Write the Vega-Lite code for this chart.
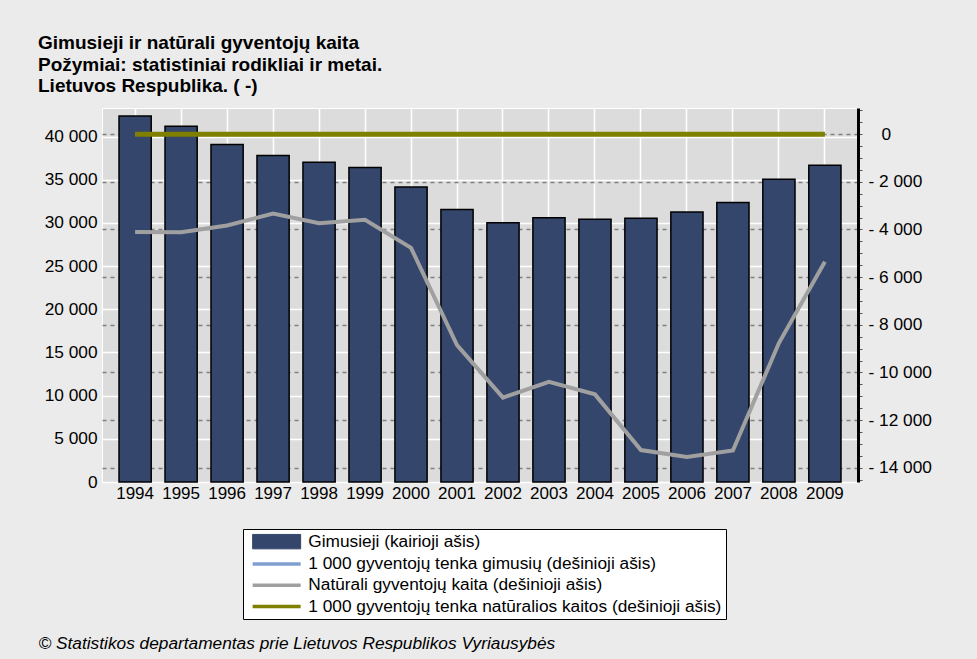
{
  "$schema": "https://vega.github.io/schema/vega-lite/v6.json",
  "autosize": {"type": "none"},
  "padding": {"left": 102, "top": 108, "right": 119, "bottom": 177},
  "width": 756,
  "height": 374,
  "background": "#ebebeb",
  "config": {
    "font": "Liberation Sans",
    "view": {"fill": "#dcdcdc", "stroke": "#ffffff", "strokeWidth": 1}
  },
  "title": {
    "text": ["Gimusieji ir natūrali gyventojų kaita", "Požymiai: statistiniai rodikliai ir metai.", "Lietuvos Respublika. ( -)"],
    "anchor": "start",
    "frame": "group",
    "dx": -64,
    "offset": 12,
    "font": "Liberation Sans",
    "fontSize": 19,
    "fontWeight": "bold",
    "lineHeight": 21.5,
    "color": "#000000"
  },
  "data": {
    "values": [
      {"year": "1994", "births": 42376, "natural": -4110, "birthRate": 11.4, "naturalRate": -1.1},
      {"year": "1995", "births": 41195, "natural": -4111, "birthRate": 11.2, "naturalRate": -1.1},
      {"year": "1996", "births": 39066, "natural": -3830, "birthRate": 10.6, "naturalRate": -1.0},
      {"year": "1997", "births": 37812, "natural": -3331, "birthRate": 10.3, "naturalRate": -0.9},
      {"year": "1998", "births": 37019, "natural": -3738, "birthRate": 10.0, "naturalRate": -1.0},
      {"year": "1999", "births": 36415, "natural": -3588, "birthRate": 9.9, "naturalRate": -1.0},
      {"year": "2000", "births": 34149, "natural": -4770, "birthRate": 9.8, "naturalRate": -1.4},
      {"year": "2001", "births": 31546, "natural": -8853, "birthRate": 9.1, "naturalRate": -2.5},
      {"year": "2002", "births": 30014, "natural": -11058, "birthRate": 8.6, "naturalRate": -3.2},
      {"year": "2003", "births": 30598, "natural": -10392, "birthRate": 8.9, "naturalRate": -3.0},
      {"year": "2004", "births": 30419, "natural": -10921, "birthRate": 8.9, "naturalRate": -3.2},
      {"year": "2005", "births": 30541, "natural": -13258, "birthRate": 8.9, "naturalRate": -3.9},
      {"year": "2006", "births": 31265, "natural": -13548, "birthRate": 9.2, "naturalRate": -4.0},
      {"year": "2007", "births": 32346, "natural": -13278, "birthRate": 9.6, "naturalRate": -3.9},
      {"year": "2008", "births": 35065, "natural": -8767, "birthRate": 10.4, "naturalRate": -2.6},
      {"year": "2009", "births": 36682, "natural": -5350, "birthRate": 11.0, "naturalRate": -1.6}
    ]
  },
  "encoding": {
    "x": {
      "field": "year",
      "type": "ordinal",
      "scale": {"paddingInner": 0.3, "paddingOuter": 0.37},
      "axis": {
        "labelAngle": 0,
        "labelFontSize": 17,
        "labelColor": "#000000",
        "labelPadding": 3,
        "domain": false,
        "ticks": false,
        "grid": true,
        "bandPosition": 0.5,
        "gridColor": "#ffffff",
        "gridWidth": 1.5,
        "gridOpacity": 1,
        "title": "© Statistikos departamentas prie Lietuvos Respublikos Vyriausybės",
        "titleX": -64,
        "titleY": 166,
        "titleAlign": "left",
        "titleBaseline": "alphabetic",
        "titleFontSize": 17.3,
        "titleFontStyle": "italic",
        "titleFontWeight": "normal",
        "titleColor": "#000000"
      }
    }
  },
  "layer": [
    {
      "mark": {"type": "bar", "stroke": "#000000", "strokeWidth": 1.5},
      "encoding": {
        "y": {
          "field": "births",
          "type": "quantitative",
          "scale": {"domain": [0, 43300], "nice": false, "zero": true},
          "axis": {
            "orient": "left",
            "values": [0, 5000, 10000, 15000, 20000, 25000, 30000, 35000, 40000],
            "labelExpr": "replace(format(datum.value, ','), ',', ' ')",
            "labelFontSize": 17.3,
            "labelColor": "#000000",
            "labelPadding": 5,
            "domain": false,
            "ticks": false,
            "grid": true,
            "gridColor": "#ffffff",
            "gridWidth": 1.5,
            "gridOpacity": 1,
            "title": null
          }
        },
        "color": {
          "datum": "Gimusieji (kairioji ašis)",
          "type": "nominal",
          "scale": {
            "domain": ["Gimusieji (kairioji ašis)", "1 000 gyventojų tenka gimusių (dešinioji ašis)", "Natūrali gyventojų kaita (dešinioji ašis)", "1 000 gyventojų tenka natūralios kaitos (dešinioji ašis)"],
            "range": ["#34466b", "#7f9fd0", "#a0a0a0", "#808000"]
          },
          "legend": {
            "title": null, "orient": "none", "legendX": 141, "legendY": 421, "direction": "vertical",
            "fillColor": "#ffffff", "strokeColor": "#000000", "padding": 4, "symbolOffset": 21, "labelOffset": 23,
            "labelFontSize": 17.3, "labelColor": "#000000", "labelLimit": 600, "rowPadding": 3.3, "symbolSize": 2304,
            "encode": {"symbols": {"update": {
              "shape": {"signal": "datum.value === 'Gimusieji (kairioji ašis)' ? 'M-1,-0.3H1V0.3H-1Z' : 'M-1,0H1'"},
              "fill": {"signal": "datum.value === 'Gimusieji (kairioji ašis)' ? '#34466b' : 'transparent'"},
              "stroke": {"signal": "datum.value === 'Gimusieji (kairioji ašis)' ? '#000000' : (datum.value === '1 000 gyventojų tenka gimusių (dešinioji ašis)' ? '#7f9fd0' : (datum.value === 'Natūrali gyventojų kaita (dešinioji ašis)' ? '#a0a0a0' : '#808000'))"},
              "strokeWidth": {"signal": "datum.value === 'Gimusieji (kairioji ašis)' ? 1 : 3.5"},
              "opacity": {"value": 1}
            }}}
          }
        }
      }
    },
    {
      "encoding": {
        "y": {
          "type": "quantitative",
          "scale": {"domain": [-14600, 1100], "nice": false, "zero": false},
          "axis": {
            "orient": "right",
            "values": [-14500, -14000, -13500, -13000, -12500, -12000, -11500, -11000, -10500, -10000, -9500, -9000, -8500, -8000, -7500, -7000, -6500, -6000, -5500, -5000, -4500, -4000, -3500, -3000, -2500, -2000, -1500, -1000, -500, 0, 500, 1000],
            "labelExpr": "datum.value % 2000 === 0 ? (datum.value < 0 ? '-  ' : '') + replace(format(abs(datum.value), ','), ',', ' ') : ''",
            "labelFontSize": 17.3,
            "labelColor": "#000000",
            "labelPadding": {"condition": {"test": "datum.value === 0", "value": 19}, "value": 6},
            "labelAlign": "left",
            "domain": true,
            "domainColor": "#000000",
            "domainWidth": 3,
            "ticks": true,
            "tickSize": 4,
            "tickColor": "#555555",
            "tickWidth": 1,
            "grid": true,
            "gridColor": "#808080",
            "gridDash": [4, 4],
            "gridWidth": 1.5,
            "gridOpacity": {"condition": {"test": "datum.value % 2000 === 0", "value": 1}, "value": 0},
            "title": null
          }
        }
      },
      "layer": [
        {
          "mark": {"type": "line", "strokeWidth": 3},
          "encoding": {
            "y": {"field": "birthRate"},
            "color": {"datum": "1 000 gyventojų tenka gimusių (dešinioji ašis)", "type": "nominal",
              "legend": {
                "title": null, "orient": "none", "legendX": 141, "legendY": 421, "direction": "vertical",
                "fillColor": "#ffffff", "strokeColor": "#000000", "padding": 4, "symbolOffset": 21, "labelOffset": 23,
                "labelFontSize": 17.3, "labelColor": "#000000", "labelLimit": 600, "rowPadding": 3.3, "symbolSize": 2304,
                "encode": {"symbols": {"update": {
                  "shape": {"signal": "datum.value === 'Gimusieji (kairioji ašis)' ? 'M-1,-0.3H1V0.3H-1Z' : 'M-1,0H1'"},
                  "fill": {"signal": "datum.value === 'Gimusieji (kairioji ašis)' ? '#34466b' : 'transparent'"},
                  "stroke": {"signal": "datum.value === 'Gimusieji (kairioji ašis)' ? '#000000' : (datum.value === '1 000 gyventojų tenka gimusių (dešinioji ašis)' ? '#7f9fd0' : (datum.value === 'Natūrali gyventojų kaita (dešinioji ašis)' ? '#a0a0a0' : '#808000'))"},
                  "strokeWidth": {"signal": "datum.value === 'Gimusieji (kairioji ašis)' ? 1 : 3.5"},
                  "opacity": {"value": 1}
                }}}
              }
            }
          }
        },
        {
          "mark": {"type": "line", "strokeWidth": 4},
          "encoding": {
            "y": {"field": "natural"},
            "color": {"datum": "Natūrali gyventojų kaita (dešinioji ašis)", "type": "nominal",
              "legend": {
                "title": null, "orient": "none", "legendX": 141, "legendY": 421, "direction": "vertical",
                "fillColor": "#ffffff", "strokeColor": "#000000", "padding": 4, "symbolOffset": 21, "labelOffset": 23,
                "labelFontSize": 17.3, "labelColor": "#000000", "labelLimit": 600, "rowPadding": 3.3, "symbolSize": 2304,
                "encode": {"symbols": {"update": {
                  "shape": {"signal": "datum.value === 'Gimusieji (kairioji ašis)' ? 'M-1,-0.3H1V0.3H-1Z' : 'M-1,0H1'"},
                  "fill": {"signal": "datum.value === 'Gimusieji (kairioji ašis)' ? '#34466b' : 'transparent'"},
                  "stroke": {"signal": "datum.value === 'Gimusieji (kairioji ašis)' ? '#000000' : (datum.value === '1 000 gyventojų tenka gimusių (dešinioji ašis)' ? '#7f9fd0' : (datum.value === 'Natūrali gyventojų kaita (dešinioji ašis)' ? '#a0a0a0' : '#808000'))"},
                  "strokeWidth": {"signal": "datum.value === 'Gimusieji (kairioji ašis)' ? 1 : 3.5"},
                  "opacity": {"value": 1}
                }}}
              }
            }
          }
        },
        {
          "mark": {"type": "line", "strokeWidth": 5},
          "encoding": {
            "y": {"field": "naturalRate"},
            "color": {"datum": "1 000 gyventojų tenka natūralios kaitos (dešinioji ašis)", "type": "nominal",
              "legend": {
                "title": null, "orient": "none", "legendX": 141, "legendY": 421, "direction": "vertical",
                "fillColor": "#ffffff", "strokeColor": "#000000", "padding": 4, "symbolOffset": 21, "labelOffset": 23,
                "labelFontSize": 17.3, "labelColor": "#000000", "labelLimit": 600, "rowPadding": 3.3, "symbolSize": 2304,
                "encode": {"symbols": {"update": {
                  "shape": {"signal": "datum.value === 'Gimusieji (kairioji ašis)' ? 'M-1,-0.3H1V0.3H-1Z' : 'M-1,0H1'"},
                  "fill": {"signal": "datum.value === 'Gimusieji (kairioji ašis)' ? '#34466b' : 'transparent'"},
                  "stroke": {"signal": "datum.value === 'Gimusieji (kairioji ašis)' ? '#000000' : (datum.value === '1 000 gyventojų tenka gimusių (dešinioji ašis)' ? '#7f9fd0' : (datum.value === 'Natūrali gyventojų kaita (dešinioji ašis)' ? '#a0a0a0' : '#808000'))"},
                  "strokeWidth": {"signal": "datum.value === 'Gimusieji (kairioji ašis)' ? 1 : 3.5"},
                  "opacity": {"value": 1}
                }}}
              }
            }
          }
        }
      ]
    }
  ],
  "resolve": {"scale": {"y": "independent"}}
}
